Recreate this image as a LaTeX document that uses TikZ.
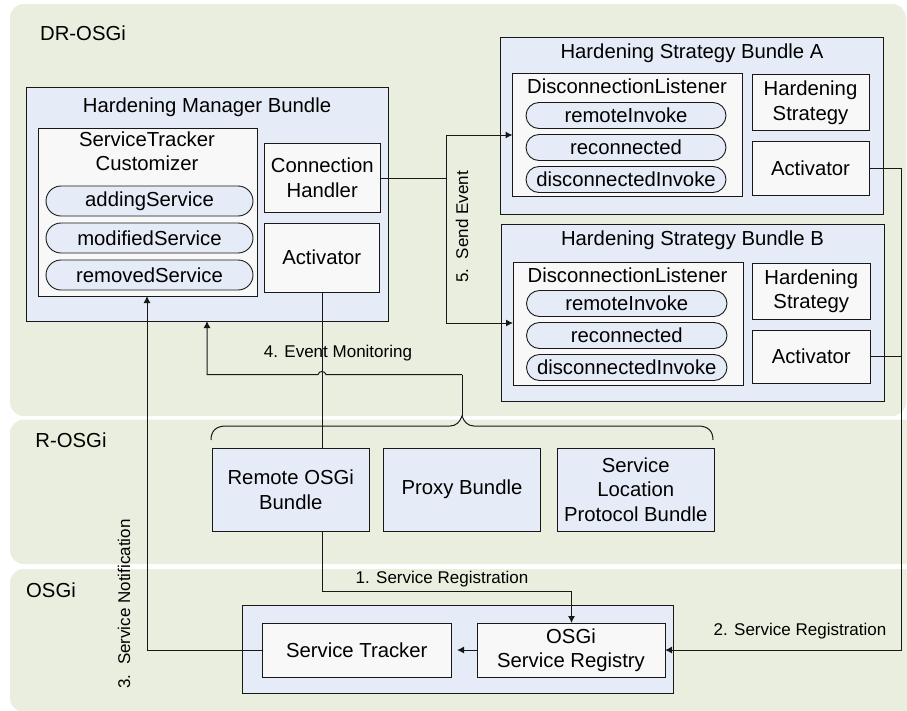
\documentclass[tikz,border=0pt]{standalone}
\usepackage{fontspec}
\setmainfont{Liberation Sans}
\usetikzlibrary{arrows.meta}
\definecolor{regionfill}{HTML}{EAEEDE}
\definecolor{bundlefill}{HTML}{E6ECF7}
\definecolor{boxfill}{HTML}{F8F8F8}
\definecolor{linecol}{HTML}{181818}
\tikzset{
  x=1pt,y=-1pt,
  region/.style={fill=regionfill,draw=none,rounded corners=14pt},
  boxbase/.style={rectangle,anchor=north west,inner sep=0pt,outer sep=0pt,draw=linecol,line width=0.9pt,align=center,font=\fontsize{20.3}{24.5}\selectfont},
  bundlebox/.style={boxbase,fill=bundlefill},
  innerbox/.style={boxbase,fill=boxfill},
  pill/.style={boxbase,fill=bundlefill,rounded corners=13pt},
  pillwide/.style={boxbase,fill=bundlefill,rounded corners=15pt},
  boxtitle/.style={font=\fontsize{20.3}{24.5}\selectfont,inner sep=0pt,align=center},
  regionlabel/.style={font=\fontsize{20.3}{24}\selectfont,inner sep=0pt},
  edgelabel/.style={font=\fontsize{17}{20}\selectfont,inner sep=0pt},
  conn/.style={draw=linecol,line width=1pt},
  arrowconn/.style={conn,-{Latex[length=7pt,width=7pt]}},
}
\newcommand{\pbox}[7][innerbox]{% style, name, x1,y1,x2,y2, text
  \node[#1,minimum width=#5pt-#3pt,minimum height=#6pt-#4pt] (#2) at (#3,#4) {#7};
}
\begin{document}
\begin{tikzpicture}
\useasboundingbox (0,0) rectangle (907,710);
\fill[white] (0,0) rectangle (907,710);
\fill[region] (10,4) rectangle (906,416);
\fill[region] (10,419.5) rectangle (925,564);
\fill[region] (10,569) rectangle (925,712);
\node[regionlabel] (lblDR) at (83,33) {DR-OSGi};
\node[regionlabel] (lblR) at (71,440) {R-OSGi};
\node[regionlabel] (lblO) at (51,590) {OSGi};

% Hardening manager
\pbox[bundlebox]{hm}{26}{87}{388}{321}{}
\node[boxtitle] (hmt) at (207,107.5) {Hardening Manager Bundle};
\pbox{stc}{38}{128}{257}{296}{}
\node[boxtitle] (stct) at (147,151) {ServiceTracker\\Customizer};
\pbox[pillwide]{p1}{46}{186}{253}{216}{addingService}
\pbox[pillwide]{p2}{46}{223}{253}{253}{modifiedService}
\pbox[pillwide]{p3}{46}{260}{253}{290}{removedService}
\pbox{ch}{264.5}{143}{380}{212}{Connection\\Handler}
\pbox{hmact}{264.5}{223}{379}{292}{Activator}

% Bundle A
\pbox[bundlebox]{ba}{500.5}{37.5}{883}{214}{}
\node[boxtitle] (bat) at (692,53) {Hardening Strategy Bundle A};
\pbox{adl}{512.5}{73.5}{742.5}{196.5}{}
\node[boxtitle] (adlt) at (627,86.5) {DisconnectionListener};
\pbox[pill]{a1}{526}{102.5}{726}{128.5}{remoteInvoke}
\pbox[pill]{a2}{526}{134.5}{726}{160.5}{reconnected}
\pbox[pill]{a3}{526}{166.5}{726}{192.5}{disconnectedInvoke}
\pbox{ahs}{752}{74.5}{869}{130.5}{Hardening\\Strategy}
\pbox{aact}{752}{141.5}{869}{195}{Activator}

% Bundle B
\pbox[bundlebox]{bb}{501}{224.5}{884}{401}{}
\node[boxtitle] (bbt) at (692.5,240) {Hardening Strategy Bundle B};
\pbox{bdl}{513}{262}{743}{385}{}
\node[boxtitle] (bdlt) at (627.5,275) {DisconnectionListener};
\pbox[pill]{b1}{526.5}{290.5}{727}{316.5}{remoteInvoke}
\pbox[pill]{b2}{526.5}{322.5}{727}{348.5}{reconnected}
\pbox[pill]{b3}{526.5}{354.5}{727}{380.5}{disconnectedInvoke}
\pbox{bhs}{752.5}{263}{870}{319}{Hardening\\Strategy}
\pbox{bact}{752.5}{330}{870}{383}{Activator}

% R-OSGi
\pbox[bundlebox]{rob}{212}{448}{369.5}{531}{Remote OSGi\\Bundle}
\pbox[bundlebox]{pb}{383.5}{448}{540.5}{531}{Proxy Bundle}
\pbox[bundlebox]{slp}{557.5}{448}{714}{531}{Service\\Location\\Protocol Bundle}

% OSGi
\pbox[bundlebox]{ob}{242.5}{605.5}{673.5}{693.5}{}
\pbox{st}{262.5}{623}{451}{677}{Service Tracker}
\pbox{sr}{477}{623}{665}{677}{OSGi\\Service Registry}

% Coordinates of the free routing points
\coordinate (hmin) at (207,321);
\coordinate (bus) at (462,374.5);
\coordinate (split) at (446,178);
\coordinate (rail) at (901.5,650);

% Connectors
\draw[conn] (ch.east |- 0,178) -- (split);
\draw[arrowconn] (split) |- (512.5,135);
\draw[arrowconn] (split) |- (513,323);
\draw[conn] (hmact.south -| 322,0) -- (rob.north -| 322,0);
\draw[arrowconn] (bus) -- (326,374.5) .. controls (325,370.5) and (319,370.5) .. (318,374.5) -- (207,374.5) -- (hmin);
\draw[conn] (bus) -- (462,416);
\draw[conn] (211,440) .. controls (211,431) and (216,426) .. (226,426) -- (450,426) .. controls (456,426) and (460,422) .. (462,416) .. controls (464,422) and (468,426) .. (474,426) -- (698,426) .. controls (708,426) and (713,431) .. (713,440);
\draw[arrowconn] (rob.south -| 322,0) -- (322,591) -- (571.5,591) -- (sr.north -| 571.5,0);
\draw[conn] (aact.east |- 0,168.5) -- (901.5,168.5) -- (rail);
\draw[conn] (bact.east |- 0,356.5) -- (901.5,356.5);
\draw[arrowconn] (rail) -- (sr.east);
\draw[arrowconn] (st.west) -- (147,650) -- (stc.south -| 147,0);
\draw[arrowconn] (sr.west) -- (457,650);

% Labels
\node[edgelabel] (l4) at (338,353) {4. Event Monitoring};
\node[edgelabel,rotate=90] (l5) at (462,227) {5.\ \ Send Event};
\node[edgelabel] (l1) at (442,579) {1. Service Registration};
\node[edgelabel] (l2) at (800,631) {2. Service Registration};
\node[edgelabel,rotate=90] (l3) at (124,604) {3.\ \ Service Notification};
\end{tikzpicture}
\end{document}
